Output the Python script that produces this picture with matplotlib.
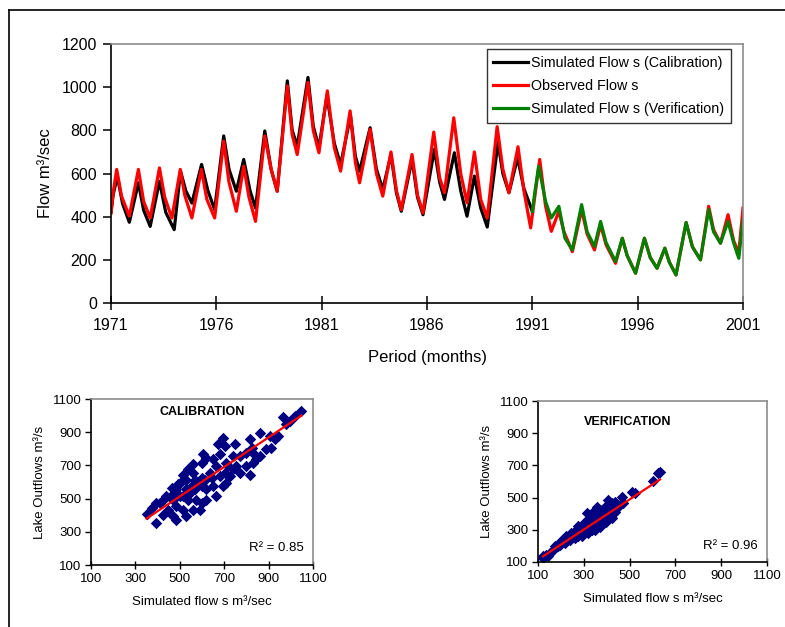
import matplotlib
matplotlib.use("Agg")
import matplotlib.pyplot as plt
from matplotlib.lines import Line2D
import numpy as np

plt.rcParams['font.family'] = ['Liberation Sans', 'DejaVu Sans']

# ---- time series (decimal year, flow m3/sec) ----
obs_t = [1971.0, 1971.1, 1971.27, 1971.5, 1971.87, 1972.3, 1972.55, 1972.86, 1973.3, 1973.55,
         1973.89, 1974.29, 1974.5, 1974.84, 1975.29, 1975.55, 1975.92, 1976.35, 1976.6, 1976.95,
         1977.3, 1977.55, 1977.86, 1978.3, 1978.6, 1978.89, 1979.37, 1979.6, 1979.84, 1980.35,
         1980.6, 1980.87, 1981.27, 1981.6, 1981.9, 1982.35, 1982.6, 1982.8, 1983.3, 1983.6,
         1983.9, 1984.29, 1984.55, 1984.78, 1985.29, 1985.55, 1985.81, 1986.32, 1986.6, 1986.83,
         1987.27, 1987.6, 1987.9, 1988.25, 1988.55, 1988.86, 1989.33, 1989.6, 1989.89, 1990.32,
         1990.6, 1990.92, 1991.35, 1991.63, 1991.9, 1992.26, 1992.5, 1992.9, 1993.34, 1993.6,
         1993.95, 1994.24, 1994.5, 1994.95, 1995.27, 1995.5, 1995.9, 1996.32, 1996.6, 1996.92,
         1997.29, 1997.5, 1997.82, 1998.3, 1998.6, 1998.98, 1999.37, 1999.6, 1999.93, 2000.29,
         2000.55, 2000.8, 2001.0]
obs_q = [417, 510, 619, 495, 402, 619, 470, 394, 626, 490,
         394, 619, 500, 394, 619, 480, 394, 750, 560, 425,
         634, 490, 378, 774, 620, 518, 1006, 780, 688, 1022,
         800, 696, 983, 720, 611, 890, 650, 557, 805, 600,
         495, 700, 520, 432, 688, 500, 417, 792, 580, 511,
         858, 600, 464, 700, 480, 394, 817, 620, 511, 724,
         520, 348, 665, 448, 332, 425, 330, 238, 433, 320,
         246, 363, 270, 184, 300, 220, 138, 300, 210, 161,
         254, 190, 130, 373, 260, 200, 448, 340, 277, 409,
         290, 231, 440]

cal_t = [1971.0, 1971.1, 1971.3, 1971.55, 1971.87, 1972.3, 1972.55, 1972.86, 1973.3, 1973.6,
         1974.0, 1974.3, 1974.55, 1974.84, 1975.3, 1975.6, 1975.92, 1976.35, 1976.6, 1976.95,
         1977.3, 1977.6, 1977.86, 1978.3, 1978.6, 1978.89, 1979.37, 1979.6, 1979.84, 1980.35,
         1980.6, 1980.87, 1981.25, 1981.6, 1981.9, 1982.37, 1982.6, 1982.8, 1983.3, 1983.6,
         1983.9, 1984.29, 1984.55, 1984.78, 1985.29, 1985.55, 1985.81, 1986.35, 1986.6, 1986.83,
         1987.3, 1987.6, 1987.9, 1988.25, 1988.55, 1988.86, 1989.37, 1989.6, 1989.89, 1990.3,
         1990.6, 1991.0]
cal_q = [420, 500, 588, 460, 374, 557, 430, 355, 564, 420,
         340, 611, 520, 463, 642, 520, 433, 774, 620, 518,
         665, 520, 440, 797, 620, 518, 1029, 800, 727, 1045,
         820, 719, 960, 740, 641, 867, 680, 611, 812, 620,
         526, 688, 510, 425, 665, 490, 409, 712, 560, 480,
         696, 520, 402, 588, 440, 352, 743, 600, 511, 673,
         530, 425]

ver_t = [1991.0, 1991.1, 1991.3, 1991.63, 1991.9, 1992.26, 1992.55, 1992.9, 1993.34, 1993.6,
         1993.95, 1994.24, 1994.5, 1994.95, 1995.27, 1995.5, 1995.9, 1996.32, 1996.6, 1996.92,
         1997.29, 1997.5, 1997.82, 1998.3, 1998.6, 1998.98, 1999.37, 1999.6, 1999.93, 2000.29,
         2000.55, 2000.8, 2001.0]
ver_q = [425, 500, 634, 470, 394, 448, 300, 246, 456, 330,
         262, 378, 280, 192, 300, 220, 138, 300, 210, 161,
         254, 190, 130, 373, 260, 200, 433, 330, 277, 378,
         280, 207, 386]

year_ticks = [1971, 1976, 1981, 1986, 1991, 1996, 2001]

# ---- scatter: simulated (x) vs lake outflows (y) ----
cal_sim = [350, 395, 373, 395, 425, 448, 470, 485, 515, 485, 500, 530, 560, 545, 575, 515, 598,
           620, 635, 665, 672, 695, 702, 747, 740, 770, 815, 860, 905, 912, 942, 965, 980, 1018,
           1048, 830, 845, 800, 680, 710, 755, 650, 598, 568, 605, 620, 598, 560, 538, 515, 493,
           463, 440, 410, 425, 485, 530, 560, 590, 620, 665, 695, 725, 770, 800, 830, 860, 890,
           815, 680, 650, 470, 530, 568, 613, 702, 740, 710, 500, 553, 463, 538, 598, 643, 718,
           823, 928, 995]
cal_obs = [409, 352, 443, 474, 494, 433, 393, 453, 514, 555, 595, 615, 656, 534, 494, 433, 474,
           555, 656, 696, 827, 868, 817, 827, 676, 757, 858, 898, 878, 807, 878, 989, 949, 999,
           1029, 777, 737, 777, 635, 595, 696, 575, 575, 615, 767, 746, 716, 706, 676, 645, 585,
           565, 514, 474, 403, 373, 393, 433, 433, 494, 514, 575, 635, 656, 696, 716, 757, 797,
           645, 767, 737, 494, 555, 555, 615, 656, 757, 716, 514, 575, 524, 494, 625, 625, 696,
           807, 858, 969]

ver_sim = [122, 137, 151, 166, 180, 195, 210, 224, 224, 239, 239, 253, 261, 268, 275, 283, 290,
           297, 304, 312, 319, 326, 334, 341, 348, 356, 363, 370, 370, 385, 392, 399, 414, 421,
           429, 436, 443, 450, 465, 472, 509, 523, 604, 633, 626, 122, 144, 173, 188, 202, 217,
           246, 261, 275, 290, 304, 319, 334, 356, 377, 399, 421, 436, 312, 341, 356, 407]
ver_obs = [125, 145, 156, 176, 193, 207, 228, 259, 238, 259, 238, 269, 248, 279, 325, 300, 259,
           320, 351, 290, 361, 320, 382, 341, 300, 403, 351, 423, 320, 382, 444, 351, 392, 465,
           423, 475, 434, 454, 506, 465, 537, 526, 605, 660, 650, 135, 140, 197, 197, 228, 217,
           279, 290, 259, 290, 310, 279, 300, 341, 362, 403, 372, 413, 403, 413, 444, 485]

# trend lines as drawn on the chart: slope, intercept
cal_fit = (0.89, 68)
ver_fit = (0.935, 21)

flow_ticks = [100, 300, 500, 700, 900, 1100]

fig = plt.figure(figsize=(7.85, 6.27), dpi=100)

# frame round the whole figure (only top and left are inside the picture)
fig.add_artist(Line2D([9 / 785, 1.0], [1 - 10 / 627, 1 - 10 / 627], color='black', lw=1.2))
fig.add_artist(Line2D([9 / 785, 9 / 785], [0.0, 1 - 10 / 627], color='black', lw=1.2))


def style_box(ax):
    ax.spines['left'].set_color('black')
    ax.spines['bottom'].set_color('black')
    ax.spines['top'].set_color('#8c8c8c')
    ax.spines['right'].set_color('#8c8c8c')
    for s in ax.spines.values():
        s.set_linewidth(1.2)


# ---- main time series ----
ax = fig.add_axes([111 / 785, 1 - 303 / 627, 632 / 785, 259 / 627])
ax.plot(cal_t, cal_q, color='black', lw=2.3, label='Simulated Flow s (Calibration)')
ax.plot(obs_t, obs_q, color='#ff0000', lw=2.3, label='Observed Flow s')
ax.plot(ver_t, ver_q, color='#008000', lw=2.3, label='Simulated Flow s (Verification)')
ax.set_xlim(1971, 2001)
ax.set_ylim(0, 1200)
ax.set_xticks(year_ticks)
ax.set_yticks(range(0, 1201, 200))
ax.tick_params(axis='y', direction='out', length=6, width=1.1, labelsize=11.5, pad=4)
ax.tick_params(axis='x', direction='inout', length=10, width=1.1, labelsize=11.5, pad=6)
style_box(ax)
ax.set_ylabel('Flow m³/sec', fontsize=12, labelpad=6)
ax.set_xlabel('Period (months)', fontsize=12, labelpad=12)
leg = ax.legend(loc='upper right', bbox_to_anchor=(0.985, 0.99), fontsize=10.3, frameon=True,
                fancybox=False, edgecolor='black', handlelength=2.4, handletextpad=0.25,
                borderpad=0.45, labelspacing=0.65, borderaxespad=0.2)
leg.get_frame().set_linewidth(1.0)


def scatter_panel(rect, xs, ys, fit, title, r2_text, title_pos):
    a = fig.add_axes(rect)
    a.scatter(xs, ys, marker='D', s=34, color='#000080', linewidths=0, zorder=2)
    k, b = fit
    xx = np.array([min(xs), max(xs)])
    a.plot(xx, k * xx + b, color='#ff0000', lw=1.6, zorder=3)
    a.set_xlim(100, 1100)
    a.set_ylim(100, 1100)
    a.set_xticks(flow_ticks)
    a.set_yticks(flow_ticks)
    a.tick_params(axis='y', direction='out', length=4, width=1, labelsize=9.5, pad=3)
    a.tick_params(axis='x', direction='inout', length=6, width=1, labelsize=9.5, pad=3)
    style_box(a)
    a.set_xlabel('Simulated flow s m³/sec', fontsize=9.5, labelpad=8)
    a.set_ylabel('Lake Outflows m³/s', fontsize=9.5, labelpad=5)
    a.text(title_pos[0], title_pos[1], title, transform=a.transAxes, fontsize=9,
           fontweight='bold', ha='center', va='center')
    a.text(0.96, 0.1, r2_text, transform=a.transAxes, fontsize=9.5, ha='right', va='center')
    return a


scatter_panel([91 / 785, 1 - 565 / 627, 222 / 785, 166 / 627], cal_sim, cal_obs, cal_fit,
              'CALIBRATION', 'R² = 0.85', (0.5, 0.92))
scatter_panel([538 / 785, 1 - 562 / 627, 229 / 785, 161 / 627], ver_sim, ver_obs, ver_fit,
              'VERIFICATION', 'R² = 0.96', (0.39, 0.87))

fig.savefig('out.png', dpi=100)
